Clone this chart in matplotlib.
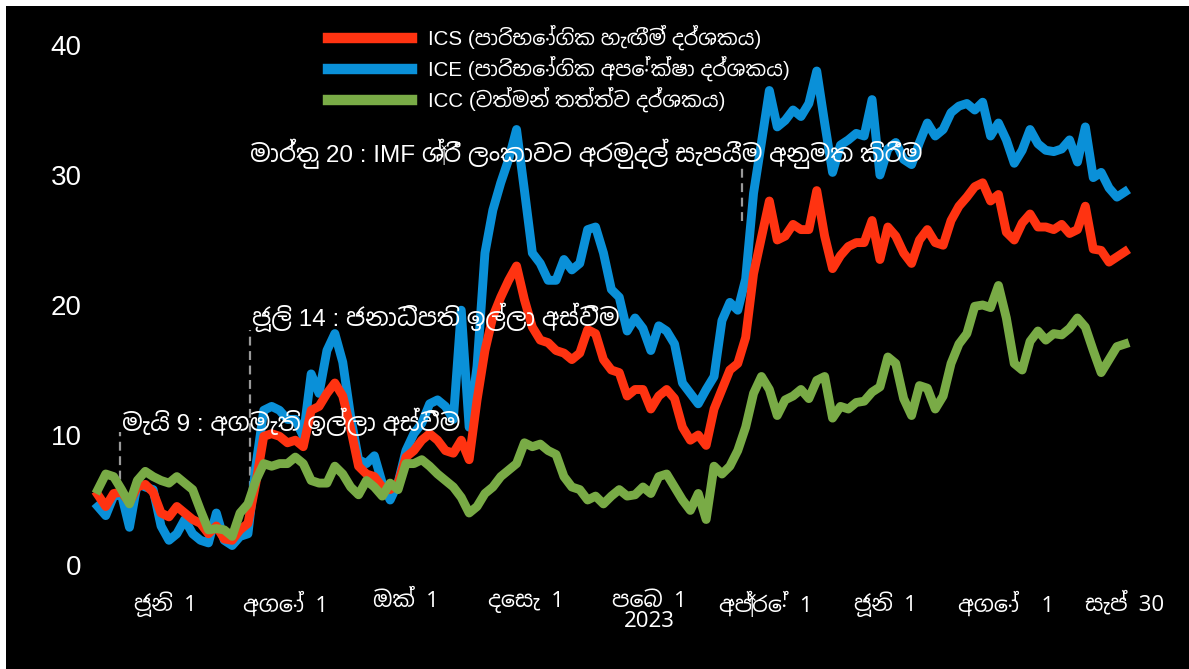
import numpy as np
import pandas as pd
import matplotlib
matplotlib.use("Agg")
import matplotlib.pyplot as plt
import matplotlib.dates as mdates
from matplotlib.patches import Rectangle

# Latin from Liberation Sans, Sinhala from Noto Sans Sinhala
fams = ['Liberation Sans', 'Noto Sans Sinhala', 'DejaVu Sans']
plt.rcParams['font.family'] = fams

# Data (one reading every 4 days)
dates = pd.date_range("2022-04-28", periods=131, freq="4D")

ics = [5.4, 4.5, 5.5, 5.6, 4.8, 6.0, 6.2, 5.6, 4.0, 3.7,
       4.5, 4.0, 3.5, 3.2, 2.4, 3.0, 2.0, 1.9, 2.7, 3.2,
       6.3, 9.9, 10.1, 9.9, 9.4, 9.6, 9.1, 11.9, 12.2, 13.2,
       14.0, 13.0, 10.5, 7.6, 7.0, 6.8, 6.0, 5.8, 6.3, 8.3,
       8.8, 9.6, 10.1, 9.6, 8.8, 8.6, 9.6, 8.1, 12.7, 16.5,
       19.1, 20.6, 21.9, 23.0, 20.4, 18.3, 17.3, 17.1, 16.5, 16.3,
       15.8, 16.3, 18.1, 17.8, 15.8, 15.0, 14.8, 13.0, 13.5, 13.5,
       12.0, 13.0, 13.5, 12.8, 10.6, 9.6, 10.0, 9.2, 12.0, 13.5,
       15.0, 15.5, 17.5, 22.4, 25.2, 28.0, 25.0, 25.3, 26.2, 25.8,
       25.8, 28.8, 25.3, 22.8, 23.8, 24.5, 24.8, 24.8, 26.5, 23.5,
       26.0, 25.3, 24.0, 23.2, 25.0, 25.8, 24.8, 24.6, 26.5, 27.6,
       28.3, 29.1, 29.4, 28.0, 28.5, 25.6, 25.0, 26.3, 27.0, 26.0,
       26.0, 25.8, 26.2, 25.5, 25.8, 27.6, 24.3, 24.2, 23.3, 23.7,
       24.1]

ice = [4.5, 3.8, 5.3, 5.4, 2.9, 6.3, 6.0, 5.8, 3.0, 1.9,
       2.4, 3.5, 2.4, 1.9, 1.7, 4.0, 1.9, 1.5, 2.2, 2.4,
       7.6, 11.9, 12.2, 11.9, 11.2, 11.2, 9.9, 14.7, 13.2, 16.5,
       17.8, 15.6, 11.4, 8.1, 7.8, 8.4, 6.3, 5.0, 6.3, 8.8,
       10.1, 10.9, 12.4, 12.7, 12.2, 11.2, 19.6, 10.6, 15.3, 24.0,
       27.3, 29.4, 31.2, 33.5, 28.8, 24.0, 23.2, 21.9, 21.9, 23.5,
       22.7, 23.2, 25.8, 26.0, 24.0, 21.2, 20.6, 18.0, 19.0, 18.2,
       16.5, 18.4, 18.0, 17.0, 14.0, 13.2, 12.4, 13.5, 14.5, 18.8,
       20.2, 19.6, 22.0, 28.6, 32.5, 36.5, 33.7, 34.2, 35.0, 34.5,
       35.5, 38.0, 34.0, 30.2, 32.3, 32.7, 33.2, 33.0, 35.8, 30.0,
       32.0, 32.5, 31.2, 30.8, 32.5, 34.0, 33.0, 33.5, 34.8, 35.3,
       35.5, 35.0, 35.6, 33.0, 34.0, 32.7, 30.9, 31.9, 33.5, 32.4,
       31.9, 31.8, 32.0, 32.7, 31.0, 33.7, 29.8, 30.2, 29.0, 28.3,
       28.7]

icc = [5.8, 7.0, 6.8, 5.8, 4.7, 6.5, 7.2, 6.8, 6.5, 6.3,
       6.8, 6.3, 5.8, 4.2, 2.7, 2.8, 2.7, 2.2, 4.0, 4.7,
       6.5, 7.8, 7.6, 7.8, 7.8, 8.3, 7.8, 6.5, 6.3, 6.3,
       7.6, 7.0, 6.0, 5.4, 6.5, 6.0, 5.3, 6.3, 5.8, 7.8,
       7.8, 8.1, 7.6, 7.0, 6.5, 6.0, 5.2, 4.0, 4.5, 5.5,
       6.0, 6.8, 7.3, 7.8, 9.4, 9.1, 9.3, 8.8, 8.5, 6.8,
       6.0, 5.8, 5.0, 5.3, 4.7, 5.3, 5.8, 5.3, 5.4, 6.0,
       5.5, 6.8, 7.0, 6.0, 5.0, 4.2, 5.5, 3.5, 7.6, 7.0,
       7.6, 8.8, 10.6, 13.2, 14.5, 13.5, 11.5, 12.7, 13.0, 13.5,
       12.8, 14.2, 14.5, 11.3, 12.2, 12.0, 12.5, 12.6, 13.3, 13.7,
       16.0, 15.5, 12.8, 11.5, 13.8, 13.6, 12.0, 13.0, 15.5, 17.0,
       17.8, 19.9, 20.0, 19.8, 21.5, 19.0, 15.5, 15.0, 17.2, 18.0,
       17.3, 17.8, 17.7, 18.2, 19.0, 18.3, 16.5, 14.8, 15.8, 16.8,
       17.0]

labels = ["ICS (පාරිභෝගික හැඟීම් දර්ශකය)",
          "ICE (පාරිභෝගික අපේක්ෂා දර්ශකය)",
          "ICC (වත්මන් තත්ත්ව දර්ශකය)"]

tick_dates = ["2022-06-01", "2022-08-01", "2022-10-01", "2022-12-01", "2023-02-01",
              "2023-04-01", "2023-06-01", "2023-08-01", "2023-09-30"]
tick_labels = ["ජූනි 1", "අගෝ 1", "ඔක් 1", "දෙසැ 1", "පෙබ 1\n2023",
               "අප්‍රේ 1", "ජූනි 1", "අගෝ  1", "සැප් 30"]

events = ["2022-05-09", "2022-07-14", "2023-03-20"]
event_lines = [(5.5, 10.2), (5.8, 18.1), (26.5, 30.7)]
event_text = ["මැයි 9 : අගමැති ඉල්ලා අස්වීම",
              "ජූලි 14 : ජනාධිපති ඉල්ලා අස්වීම",
              "මාර්තු 20 : IMF ශ්‍රී ලංකාවට අරමුදල් සැපයීම අනුමත කිරීම"]
text_dates = ["2022-05-10", "2022-07-15", "2022-07-14"]
text_y = [10.3, 18.4, 31.0]

# Figure
W, H = 1189, 669
fig = plt.figure(figsize=(W / 100, H / 100), dpi=100)
fig.patch.set_facecolor("white")
fig.patches.append(Rectangle((6 / W, 0), 1, (H - 6) / H, transform=fig.transFigure,
                             facecolor="black", edgecolor="none", zorder=-10))

L, R, B, T = 90, 1140, 580, 30
ax = fig.add_axes([L / W, (H - B) / H, (R - L) / W, (B - T) / H])
ax.set_facecolor("black")

red, blue, green = "#FF3311", "#0A90D8", "#79AB46"
lw = 6.4
l_ice, = ax.plot(dates, ice, color=blue, lw=lw, solid_joinstyle="round", zorder=3)
l_ics, = ax.plot(dates, ics, color=red, lw=lw, solid_joinstyle="round", zorder=4)
l_icc, = ax.plot(dates, icc, color=green, lw=lw, solid_joinstyle="round", zorder=5)

for d, (y0, y1) in zip(events, event_lines):
    ax.plot([pd.Timestamp(d)] * 2, [y0, y1], color="#9a9a9a", lw=1.6,
            ls=(0, (4, 2.5)), zorder=2)
for d, yv, s in zip(text_dates, text_y, event_text):
    ax.text(pd.Timestamp(d), yv, s, color="white", fontsize=17.5,
            ha="left", va="baseline", zorder=6)

# axis scales
jun1 = mdates.date2num(pd.Timestamp("2022-06-01"))
ppd = 1.975
ax.set_xlim(jun1 - (165 - L) / ppd, jun1 + (R - 165) / ppd)
ax.set_ylim(-(B - 565) / 13, 40 + (45 - T) / 13)

ax.set_yticks([0, 10, 20, 30, 40])
ax.tick_params(axis="y", length=0, pad=6, labelsize=20, labelcolor="white")
ax.set_xticks([pd.Timestamp(d) for d in tick_dates])
ax.set_xticklabels(tick_labels, fontsize=16, color="white", linespacing=0.9,
                   family=['Liberation Sans Narrow', 'Noto Sans Sinhala', 'DejaVu Sans'])
ax.tick_params(axis="x", length=0, pad=8)
for s in ax.spines.values():
    s.set_visible(False)

leg = ax.legend([l_ics, l_ice, l_icc], labels, loc="upper left",
                bbox_to_anchor=(328 / W, 1 - 25 / H), bbox_transform=fig.transFigure,
                frameon=False, fontsize=14.8, handlelength=4.1, handletextpad=0.75,
                labelspacing=0.27, borderpad=0, borderaxespad=0)
for t in leg.get_texts():
    t.set_color("white")
for h in leg.legend_handles:
    h.set_linewidth(7.5)

fig.savefig("out.png", dpi=100, facecolor=fig.get_facecolor())
